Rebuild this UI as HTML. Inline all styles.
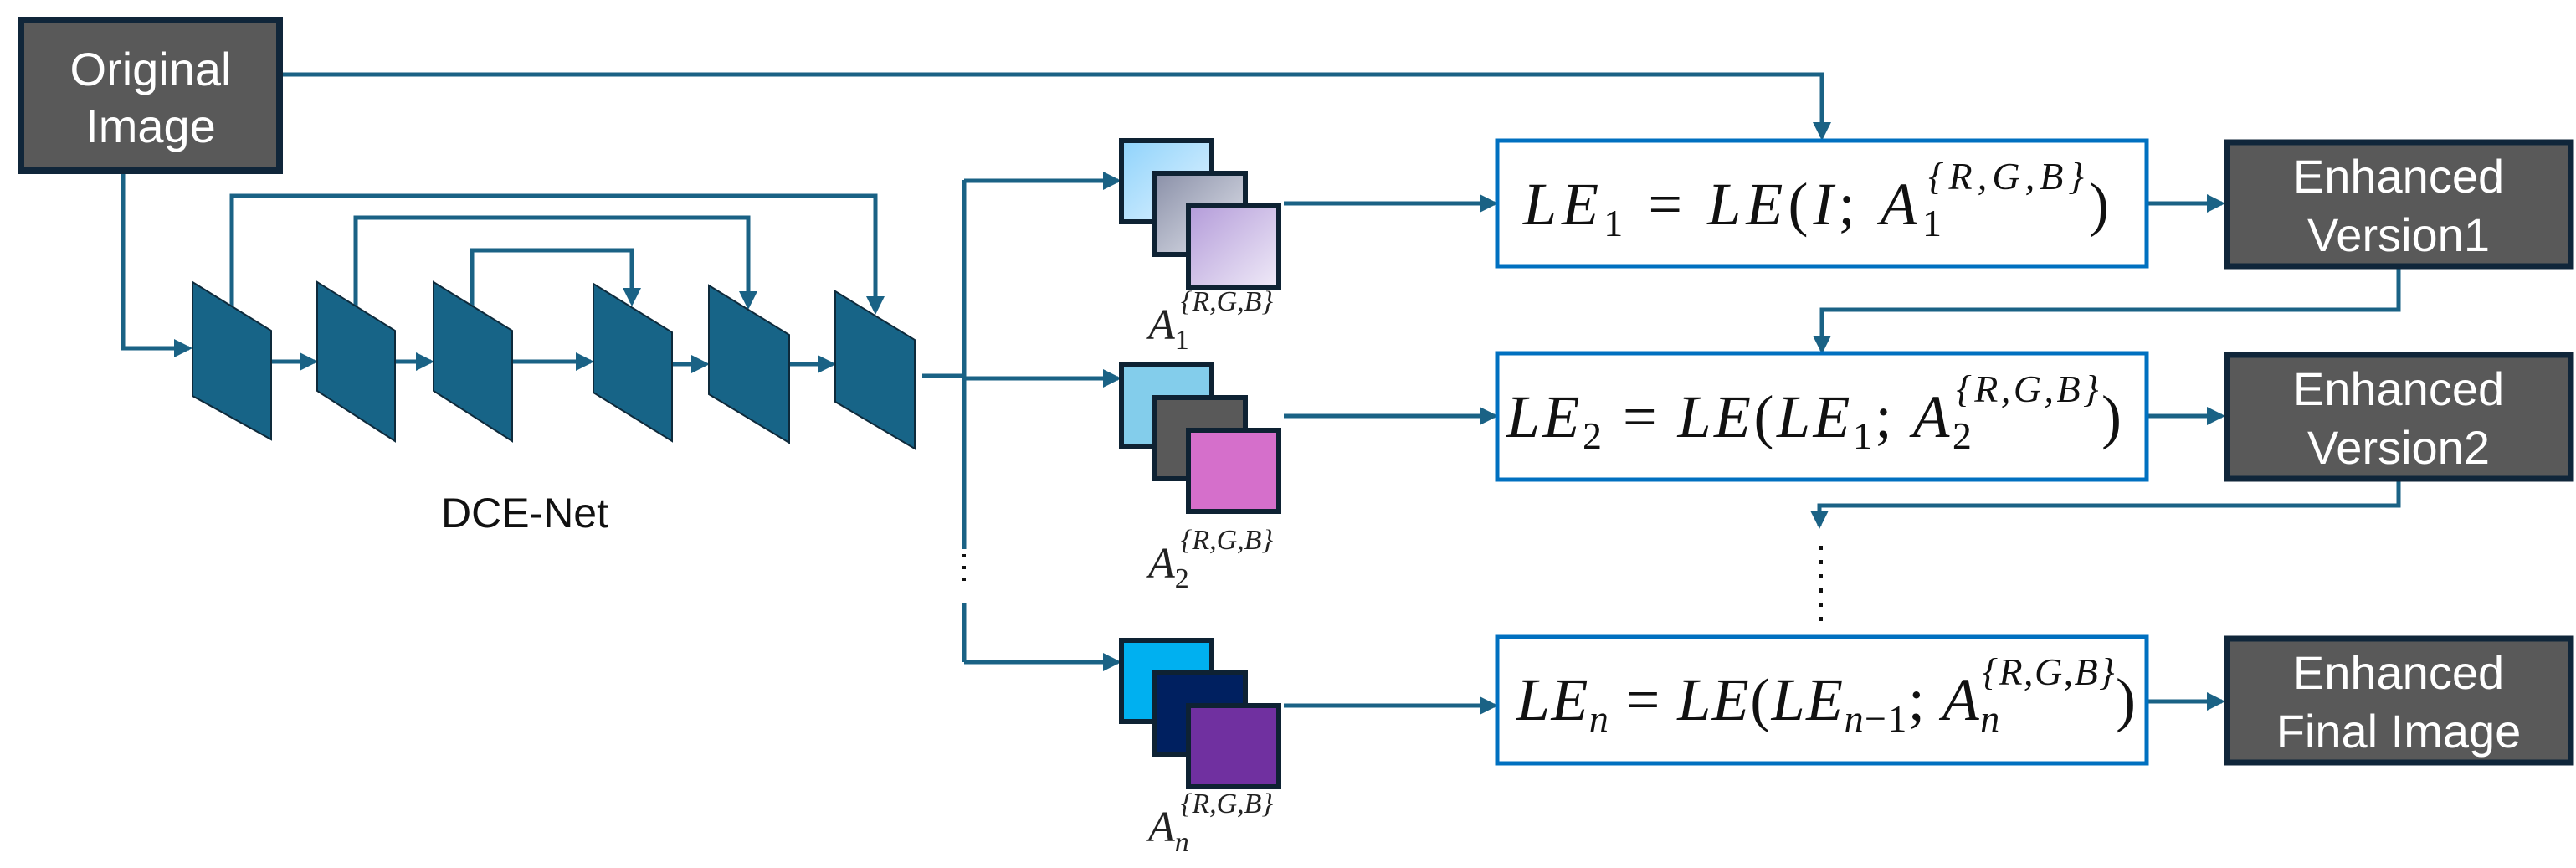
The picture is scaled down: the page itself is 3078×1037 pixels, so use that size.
<!DOCTYPE html>
<html><head><meta charset="utf-8"><style>
html,body{margin:0;padding:0;background:#fff;}
svg{display:block;}
.t{font-family:"Liberation Sans",Arial,sans-serif;fill:#fff;font-size:56px;text-anchor:middle;}
.eq{font-family:"Liberation Serif",serif;font-style:italic;font-size:72px;fill:#111;}
.lab{font-family:"Liberation Serif",serif;font-style:italic;fill:#222;}
</style></head><body>
<svg width="3078" height="1037" viewBox="0 0 3078 1037" xmlns="http://www.w3.org/2000/svg">
<defs>
<marker id="ar" markerWidth="4.4" markerHeight="4.4" refX="3.6" refY="2.2" orient="auto" markerUnits="strokeWidth">
<path d="M0,0 L4.4,2.2 L0,4.4 z" fill="#1a6285"/></marker>
<linearGradient id="g1" x1="0" y1="0" x2="1" y2="1"><stop offset="0" stop-color="#8fd3fb"/><stop offset="1" stop-color="#e2f3ff"/></linearGradient>
<linearGradient id="g2" x1="0" y1="0" x2="1" y2="1"><stop offset="0" stop-color="#8a90a8"/><stop offset="1" stop-color="#e4e6ee"/></linearGradient>
<linearGradient id="g3" x1="0" y1="0" x2="1" y2="1"><stop offset="0" stop-color="#b39bd9"/><stop offset="1" stop-color="#f0ebf8"/></linearGradient>
</defs>
<g fill="none" stroke="#1a6285" stroke-width="5">
<polyline points="338,89 2177,89 2177,164" marker-end="url(#ar)"/>
<polyline points="147,208 147,416 226,416" marker-end="url(#ar)"/>
<line x1="324" y1="432" x2="376" y2="432" marker-end="url(#ar)"/>
<line x1="472" y1="432" x2="515" y2="432" marker-end="url(#ar)"/>
<line x1="612" y1="432" x2="706" y2="432" marker-end="url(#ar)"/>
<line x1="803" y1="435" x2="844" y2="435" marker-end="url(#ar)"/>
<line x1="943" y1="435" x2="995" y2="435" marker-end="url(#ar)"/>
<polyline points="277,372 277,234 1046,234 1046,372" marker-end="url(#ar)"/>
<polyline points="425,370 425,260 894,260 894,366" marker-end="url(#ar)"/>
<polyline points="564,368 564,299 755,299 755,362" marker-end="url(#ar)"/>
<line x1="1102" y1="449" x2="1152" y2="449"/>
<line x1="1152" y1="215" x2="1152" y2="656"/>
<line x1="1152" y1="721" x2="1152" y2="791"/>
<polyline points="1152,216 1336,216" marker-end="url(#ar)"/>
<polyline points="1152,452 1336,452" marker-end="url(#ar)"/>
<polyline points="1152,791 1336,791" marker-end="url(#ar)"/>
<line x1="1534" y1="243" x2="1786" y2="243" marker-end="url(#ar)"/>
<line x1="1534" y1="497" x2="1786" y2="497" marker-end="url(#ar)"/>
<line x1="1534" y1="843" x2="1786" y2="843" marker-end="url(#ar)"/>
<line x1="2565" y1="243" x2="2655" y2="243" marker-end="url(#ar)"/>
<line x1="2565" y1="497" x2="2655" y2="497" marker-end="url(#ar)"/>
<line x1="2565" y1="838" x2="2655" y2="838" marker-end="url(#ar)"/>
<polyline points="2866,319 2866,370 2177,370 2177,419" marker-end="url(#ar)"/>
<polyline points="2866,573 2866,604 2174,604 2174,628" marker-end="url(#ar)"/>
</g>
<line x1="2176" y1="652" x2="2176" y2="752" stroke="#111" stroke-width="4" stroke-dasharray="5,12"/>
<line x1="1152" y1="662" x2="1152" y2="700" stroke="#111" stroke-width="4" stroke-dasharray="4,10"/>
<g fill="#176487" stroke="#0e2a3b" stroke-width="2">
<polygon points="230,337 324,395 324,525 230,473"/>
<polygon points="379,337 472,395 472,527 379,467"/>
<polygon points="518,337 612,395 612,527 518,467"/>
<polygon points="709,339 803,397 803,527 709,469"/>
<polygon points="847,341 943,400 943,529 847,471"/>
<polygon points="998,348 1093,406 1093,536 998,480"/>
</g>
<text x="627" y="630" font-family="'Liberation Sans',sans-serif" font-size="50" text-anchor="middle" fill="#111">DCE-Net</text>
<rect x="25" y="24" width="309" height="180" fill="#595959" stroke="#10263a" stroke-width="8"/>
<text class="t" x="180" y="102">Original</text>
<text class="t" x="180" y="170">Image</text>
<g stroke="#0e2233" stroke-width="6">
<rect x="1340" y="168" width="108" height="97" fill="url(#g1)"/>
<rect x="1380" y="207" width="108" height="97" fill="url(#g2)"/>
<rect x="1420" y="246" width="108" height="97" fill="url(#g3)"/>
<rect x="1340" y="436" width="108" height="97" fill="#83cdeb"/>
<rect x="1380" y="475" width="108" height="97" fill="#595959"/>
<rect x="1420" y="514" width="108" height="97" fill="#d56fcb"/>
<rect x="1340" y="765" width="108" height="97" fill="#00b0f0"/>
<rect x="1380" y="804" width="108" height="97" fill="#002060"/>
<rect x="1420" y="843" width="108" height="97" fill="#7030a0"/>
</g>
<g class="lab">
<text x="1372" y="405" font-size="52">A<tspan font-size="34" dy="12" font-style="normal">1</tspan><tspan font-size="34" dy="-46" dx="-10">{R,G,B}</tspan></text>
<text x="1372" y="690" font-size="52">A<tspan font-size="34" dy="12" font-style="normal">2</tspan><tspan font-size="34" dy="-46" dx="-10">{R,G,B}</tspan></text>
<text x="1372" y="1005" font-size="52">A<tspan font-size="34" dy="12">n</tspan><tspan font-size="34" dy="-46" dx="-10">{R,G,B}</tspan></text>
</g>
<g fill="#fff" stroke="#0070c0" stroke-width="5">
<rect x="1789" y="168" width="776" height="150"/>
<rect x="1789" y="422" width="776" height="151"/>
<rect x="1789" y="761" width="776" height="151"/>
</g>
<text class="eq" x="1820" y="268" textLength="700" lengthAdjust="spacing">LE<tspan font-size="46" dy="14" font-style="normal">1</tspan><tspan dy="-14" font-style="normal"> = </tspan>LE<tspan font-style="normal">(</tspan>I<tspan font-style="normal">; </tspan>A<tspan font-size="46" dy="14" font-style="normal">1</tspan><tspan font-size="46" dy="-56" dx="-22">{R,G,B}</tspan><tspan dy="42" font-style="normal">)</tspan></text>
<text class="eq" x="1800" y="522" textLength="735" lengthAdjust="spacing">LE<tspan font-size="46" dy="14" font-style="normal">2</tspan><tspan dy="-14" font-style="normal"> = </tspan>LE<tspan font-style="normal">(</tspan>LE<tspan font-size="46" dy="14" font-style="normal">1</tspan><tspan dy="-14" font-style="normal">; </tspan>A<tspan font-size="46" dy="14" font-style="normal">2</tspan><tspan font-size="46" dy="-56" dx="-22">{R,G,B}</tspan><tspan dy="42" font-style="normal">)</tspan></text>
<text class="eq" x="1812" y="860" textLength="740" lengthAdjust="spacing">LE<tspan font-size="46" dy="14">n</tspan><tspan dy="-14" font-style="normal"> = </tspan>LE<tspan font-style="normal">(</tspan>LE<tspan font-size="46" dy="14">n</tspan><tspan font-size="46" font-style="normal">−1</tspan><tspan dy="-14" font-style="normal">; </tspan>A<tspan font-size="46" dy="14">n</tspan><tspan font-size="46" dy="-56" dx="-22">{R,G,B}</tspan><tspan dy="42" font-style="normal">)</tspan></text>
<g fill="#595959" stroke="#10263a" stroke-width="7">
<rect x="2661" y="170" width="411" height="148"/>
<rect x="2661" y="424" width="411" height="148"/>
<rect x="2661" y="763" width="411" height="148"/>
</g>
<text class="t" x="2866" y="230">Enhanced</text>
<text class="t" x="2866" y="300">Version1</text>
<text class="t" x="2866" y="484">Enhanced</text>
<text class="t" x="2866" y="554">Version2</text>
<text class="t" x="2866" y="823">Enhanced</text>
<text class="t" x="2866" y="893">Final Image</text>
</svg>
</body></html>
